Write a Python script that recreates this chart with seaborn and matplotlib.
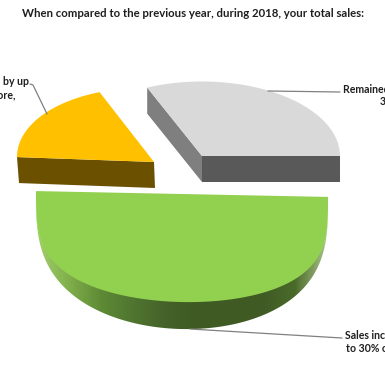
import numpy as np
import seaborn as sns
import matplotlib.pyplot as plt
from matplotlib.patches import Polygon

title = 'When compared to the previous year, during 2018, your total sales:'
categories = ['Remained the same,\n32%', 'Sales decreased by up\nto 30% or more,', 'Sales increased by up\nto 30% or more, 50%']
shares = [31.5, 18.5, 50]

sns.set_theme(style='white')
plt.rcParams['font.family'] = ['Lato', 'DejaVu Sans']

fig = plt.figure(figsize=(3.85, 3.65), dpi=100)
ax = fig.add_axes([0, 0, 1, 1])

# pie is tilted, back half looks flatter than the front half
def rim(cx, cy, r, a, tilt=0):
    a = np.radians(a)
    s = np.sin(a)
    y = np.where(s > 0, 0.54 * s, -0.74 * np.abs(s) ** 0.58)
    x = r * np.cos(a)
    return cx + x, cy - r * y + tilt * x

edges = np.cumsum([0] + shares) * 3.6
depth = 26

# grey slice
cx, cy, r = 202, 156, 138
xe, ye = rim(cx, cy, r, np.linspace(edges[0], edges[1], 80))
ax.add_patch(Polygon([(cx, cy), (xe[-1], ye[-1]), (xe[-1], ye[-1] + depth), (cx, cy + depth)], color='#7f7f7f', lw=0))
ax.add_patch(Polygon([(cx, cy), (xe[0], ye[0]), (xe[0], ye[0] + depth), (cx, cy + depth)], color='#595959', lw=0))
ax.add_patch(Polygon(list(zip(xe, ye)) + [(cx, cy)], color='#d9d9d9', lw=0))

# yellow slice
cx, cy, r = 154, 162, 137
xe, ye = rim(cx, cy, r, np.linspace(edges[1], edges[2], 80), tilt=0.036)
ax.add_patch(Polygon([(cx, cy), (xe[-1], ye[-1]), (xe[-1] + 2, ye[-1] + depth), (cx + 1, cy + depth)], color='#6b5000', lw=0))
ax.add_patch(Polygon(list(zip(xe, ye)) + [(cx, cy)], color='#ffc000', lw=0))

# green slice, side is a left to right gradient clipped to the rim
cx, cy, r = 182, 194, 146
side = sns.blend_palette(['#a3cf6c', '#7fae4a', '#5e8a35', '#4f7530', '#44622a', '#3f5a22', '#3f5a22', '#3f5a24', '#4a6a2a', '#a9c488'], as_cmap=True)
xe, ye = rim(cx, cy, r, np.linspace(edges[2], edges[3], 300), tilt=0.02)
drop = 27 * np.abs(np.sin(np.radians(np.linspace(edges[2], edges[3], 300))))
outline = Polygon(list(zip(xe, ye - 1)) + list(zip(xe[::-1], (ye + drop)[::-1])), transform=ax.transData, fc='none', lw=0)
ax.add_patch(outline)
grad = ax.imshow(np.linspace(0, 1, 292).reshape(1, -1), cmap=side, aspect='auto', extent=(cx - r, cx + r, 340, 190), zorder=1)
grad.set_clip_path(outline)
ax.add_patch(Polygon(list(zip(xe, ye)), color='#92d050', lw=0, zorder=2))

# leader lines
ax.plot([47, 33, 30], [114, 85, 84], color='#808080', lw=0.9)
ax.plot([268, 340], [91, 92], color='#808080', lw=0.9)
ax.plot([190, 342], [329, 338], color='#808080', lw=0.9)

ax.text(192.5, 13.5, title, ha='center', va='center', fontsize=8.2, fontweight='bold', color='#1f1f1f')
ax.text(390, 95, categories[0], ha='center', va='center', fontsize=7.6, fontweight='bold', color='#1f1f1f', linespacing=1.2)
ax.text(-22.5, 88, categories[1], ha='center', va='center', fontsize=7.6, fontweight='bold', color='#1f1f1f', linespacing=1.2)
ax.text(395, 341.5, categories[2], ha='center', va='center', fontsize=7.6, fontweight='bold', color='#1f1f1f', linespacing=1.2)

ax.set_xlim(0, 385)
ax.set_ylim(365, 0)
ax.axis('off')

fig.savefig('out.png', dpi=100)
